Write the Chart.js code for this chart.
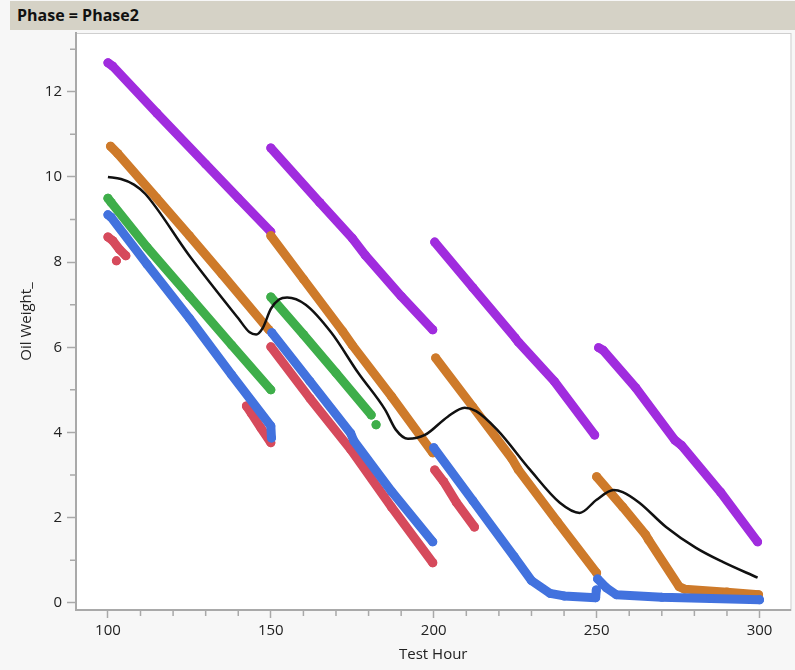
<!DOCTYPE html>
<html>
<head>
<meta charset="utf-8">
<script src="https://cdn.jsdelivr.net/npm/chart.js@4.4.0/dist/chart.umd.min.js"></script>
<style>
  body { margin: 0; background: #f7f7f7; }
  #wrap { position: relative; width: 795px; height: 670px; }
  #head {
    position: absolute; left: 10px; top: 1px; width: 785px; height: 29px;
    background: #d5d2c6; font: bold 16px "Open Sans", sans-serif; color: #111;
    line-height: 29px; padding-left: 7px; box-sizing: border-box;
  }
</style>
</head>
<body>
<div id="wrap">
  <canvas id="grafica" width="795" height="670"></canvas>
  <div id="head">Phase = Phase2</div>
</div>
<script>
// Puntos (null = corte entre tramos)
const purpleHour = [100, 101.5, 115, 130, 140, 150, null, 150, 165, 175, 179, 190, 199.7, null, 200.3, 212, 225, 226, 237, 249.4, null, 250.6, 252, 262, 274, 276, 288, 299.4]
const purpleOil = [12.68, 12.6, 11.5, 10.3, 9.5, 8.71, null, 10.68, 9.4, 8.56, 8.16, 7.2, 6.41, null, 8.47, 7.4, 6.22, 6.12, 5.2, 3.94, null, 5.99, 5.93, 5.05, 3.82, 3.7, 2.6, 1.43]

const orangeHour = [100.8, 103, 115, 125, 135, 149.4, null, 150, 160, 172, 175, 187, 199.7, null, 200.6, 212, 224, 226, 238, 250, null, 250, 258, 265, 266, 275.3, 277, 290, 299.7]
const orangeOil = [10.72, 10.55, 9.5, 8.62, 7.72, 6.41, null, 8.62, 7.6, 6.38, 6.05, 4.85, 3.52, null, 5.75, 4.6, 3.38, 3.12, 1.9, 0.7, null, 2.96, 2.25, 1.6, 1.47, 0.38, 0.32, 0.25, 0.19]

const greenHour = [100, 101, 112, 125, 138, 150, null, 150, 160, 170, 180.8, null, 182.3]
const greenOil = [9.5, 9.4, 8.35, 7.2, 6.05, 5.0, null, 7.18, 6.3, 5.4, 4.41, null, 4.18]

const redHour = [100, 101.5, 103.5, 105.5, null, 102.6, null, 142.5, 144, 147, 150, null, 150, 162, 174.5, 187, 199.7, null, 200.3, 203, 207, 212.5]
const redOil = [8.59, 8.5, 8.3, 8.15, null, 8.03, null, 4.62, 4.45, 4.1, 3.76, null, 6.01, 4.8, 3.6, 2.25, 0.94, null, 3.12, 2.85, 2.35, 1.78]

const blueHour = [100, 101, 112, 125, 138, 150, 150.2, null, 150.3, 162, 174.5, 175.5, 187, 199.7, null, 200, 212, 224.7, 230, 235.7, 240, 249.7, 249.9, null, 250.3, 253, 256, 270, 285, 300]
const blueOil = [9.11, 9.05, 7.95, 6.68, 5.35, 4.15, 3.87, null, 6.34, 5.2, 3.98, 3.8, 2.62, 1.43, null, 3.64, 2.4, 1.08, 0.52, 0.22, 0.16, 0.12, 0.3, null, 0.56, 0.35, 0.19, 0.13, 0.1, 0.07]

// curva suavizada
const fitHour = [100, 104, 108, 111.5, 125, 140, 143.5, 145.5, 147.5, 150, 152.5, 155, 160.7, 168.6, 176.8, 185.1, 188.4, 192.1, 197.3, 204.3, 209.5, 213, 219.5, 229.6, 238.7, 244.8, 250, 255.2, 258, 263.1, 271.3, 280.5, 288.7, 299.4]
const fitOil = [10.0, 9.95, 9.82, 9.6, 8.15, 6.68, 6.35, 6.3, 6.45, 6.9, 7.12, 7.17, 7.0, 6.34, 5.4, 4.53, 4.06, 3.85, 3.94, 4.37, 4.58, 4.5, 4.06, 3.12, 2.35, 2.11, 2.42, 2.65, 2.6, 2.35, 1.78, 1.29, 0.96, 0.59]

const xMinor = [110, 120, 130, 140, 160, 170, 180, 190, 210, 220, 230, 240, 260, 270, 280, 290]
const yMinor = [1, 3, 5, 7, 9, 11, 13]

const pts = (xs, ys) => xs.map((x, i) => ({ x: x, y: ys[i] }))

const thick = (label, xs, ys, color, order) => ({
    label: label,
    data: pts(xs, ys),
    borderColor: color,
    backgroundColor: color,
    borderWidth: 9,
    borderCapStyle: 'round',
    borderJoinStyle: 'round',
    pointRadius: 4.5,
    pointBorderWidth: 0,
    pointHoverRadius: 0,
    spanGaps: false,
    order: order
})

const axisGrey = '#a9a9a9'

const minorTicks = {
    id: 'minorTicks',
    beforeDraw(chart) {
        const a = chart.chartArea
        const c = chart.ctx
        c.save()
        c.fillStyle = '#ffffff'
        c.fillRect(a.left, a.top, a.right - a.left, a.bottom - a.top)
        c.strokeStyle = '#cfcfcf'
        c.lineWidth = 1
        c.strokeRect(a.left + 0.5, a.top + 0.5, a.right - a.left, a.bottom - a.top)
        c.restore()
    },
    afterDraw(chart) {
        const c = chart.ctx
        const x = chart.scales.x
        const y = chart.scales.y
        c.save()
        c.strokeStyle = axisGrey
        c.lineWidth = 1.5
        c.beginPath()
        xMinor.forEach(v => {
            const px = x.getPixelForValue(v)
            c.moveTo(px, y.bottom + 1)
            c.lineTo(px, y.bottom + 6)
        })
        yMinor.forEach(v => {
            const py = y.getPixelForValue(v)
            c.moveTo(x.left - 1, py)
            c.lineTo(x.left - 6, py)
        })
        c.stroke()
        c.restore()
    }
}

const tickFont = { family: 'Open Sans', size: 15 }

new Chart(document.querySelector('#grafica'), {
    type: 'line',
    data: {
        datasets: [
            {
                label: 'fit',
                data: pts(fitHour, fitOil),
                borderColor: '#111111',
                borderWidth: 2.5,
                pointRadius: 0,
                cubicInterpolationMode: 'monotone',
                order: 0
            },
            thick('blue', blueHour, blueOil, 'rgb(66,114,222)', 1),
            thick('red', redHour, redOil, 'rgb(214,74,92)', 2),
            thick('green', greenHour, greenOil, 'rgb(62,174,74)', 3),
            thick('orange', orangeHour, orangeOil, 'rgb(206,122,42)', 4),
            thick('purple', purpleHour, purpleOil, 'rgb(160,44,222)', 5)
        ]
    },
    options: {
        responsive: false,
        animation: false,
        events: [],
        layout: { padding: { top: 33, right: 2, left: 0, bottom: 0 } },
        plugins: { legend: { display: false }, tooltip: { enabled: false } },
        scales: {
            x: {
                type: 'linear',
                min: 90.2,
                max: 309.5,
                afterFit: s => { s.height = 60 },
                border: { display: true, color: axisGrey, width: 2 },
                grid: { drawOnChartArea: false, drawTicks: true, tickLength: 8, color: axisGrey, tickWidth: 1.5 },
                ticks: { stepSize: 50, includeBounds: false, color: '#222', font: tickFont, padding: 4, maxRotation: 0 },
                title: { display: true, text: 'Test Hour', color: '#222', font: tickFont, padding: { top: 0, bottom: 6 } }
            },
            y: {
                type: 'linear',
                min: -0.17,
                max: 13.38,
                afterFit: s => { s.width = 76 },
                border: { display: true, color: axisGrey, width: 2 },
                grid: { drawOnChartArea: false, drawTicks: true, tickLength: 9, color: axisGrey, tickWidth: 1.5 },
                ticks: { stepSize: 2, includeBounds: false, color: '#222', font: tickFont, padding: 5 },
                title: { display: true, text: 'Oil Weight_', color: '#222', font: tickFont, padding: { top: 18, bottom: 0 } }
            }
        }
    },
    plugins: [minorTicks]
})
</script>
</body>
</html>
